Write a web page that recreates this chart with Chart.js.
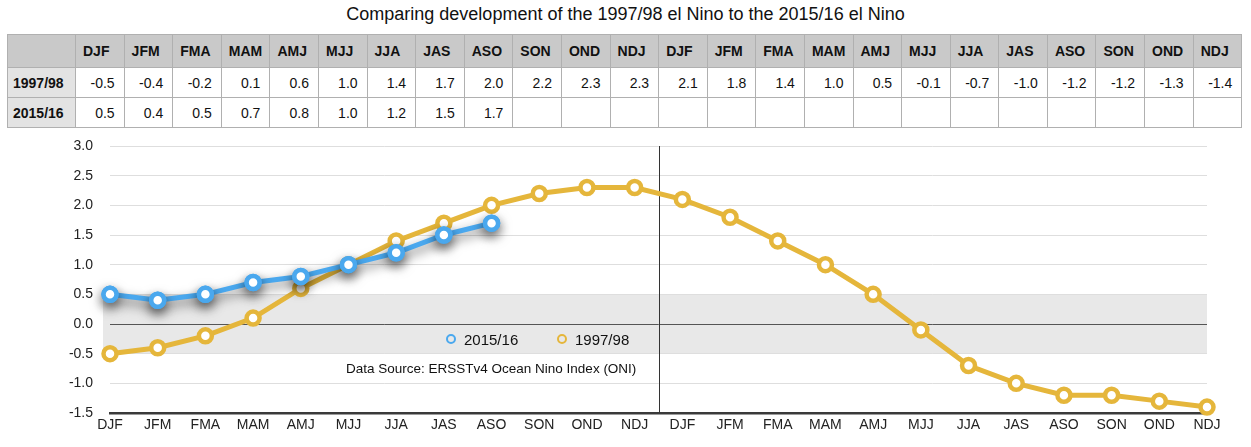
<!DOCTYPE html>
<html>
<head>
<meta charset="utf-8">
<script src="https://cdn.jsdelivr.net/npm/chart.js@4"></script>
<style>
    body { margin: 0; background: #fff; font-family: "Liberation Sans", Arial, sans-serif; color: #111; }
    #title { position: absolute; left: 0; top: 4px; width: 1251px; text-align: center; font-size: 18px; }
    #ninoTable { position: absolute; left: 7px; top: 34px; border-collapse: collapse; table-layout: fixed; font-size: 14px; }
    #ninoTable td { border: 1px solid #b0b0b0; padding: 0; overflow: hidden; white-space: nowrap; }
    #ninoTable tr.head td { background: #c9c9c9; font-weight: bold; height: 32px; padding-left: 7px; }
    #ninoTable tr.data td { height: 29px; text-align: right; padding-right: 9px; }
    #ninoTable tr.data td.lbl { background: #e3e3e3; font-weight: bold; text-align: left; padding-left: 5px; padding-right: 0; }
    #chartBox { position: absolute; left: 0; top: 135px; width: 1251px; height: 312px; }
    .legend { position: absolute; top: 331px; font-size: 15px; }
    .legend span.dot { display: inline-block; width: 6px; height: 6px; border-radius: 50%; border: 2.5px solid; margin-right: 8px; vertical-align: 1px; }
    #source { position: absolute; left: 346px; top: 361px; font-size: 13.5px; }
</style>
</head>
<body>
<div id="title">Comparing development of the 1997/98 el Nino to the 2015/16 el Nino</div>
<table id="ninoTable"></table>
<div id="chartBox"><canvas id="ninoChart"></canvas></div>
<div class="legend" style="left:446px;"><span class="dot" style="border-color:#4aa8ee;"></span>2015/16</div>
<div class="legend" style="left:557px;"><span class="dot" style="border-color:#e5b63b;"></span>1997/98</div>
<div id="source">Data Source: ERSSTv4 Ocean Nino Index (ONI)</div>

<script>
const seasons = ['DJF', 'JFM', 'FMA', 'MAM', 'AMJ', 'MJJ', 'JJA', 'JAS', 'ASO', 'SON', 'OND', 'NDJ',
                 'DJF', 'JFM', 'FMA', 'MAM', 'AMJ', 'MJJ', 'JJA', 'JAS', 'ASO', 'SON', 'OND', 'NDJ'];
const oni1997 = [-0.5, -0.4, -0.2, 0.1, 0.6, 1.0, 1.4, 1.7, 2.0, 2.2, 2.3, 2.3,
                 2.1, 1.8, 1.4, 1.0, 0.5, -0.1, -0.7, -1.0, -1.2, -1.2, -1.3, -1.4];
const oni2015 = [0.5, 0.4, 0.5, 0.7, 0.8, 1.0, 1.2, 1.5, 1.7];
const yTicks = [-1.5, -1.0, -0.5, 0.0, 0.5, 1.0, 1.5, 2.0, 2.5, 3.0];

const BLUE = '#4aa8ee';
const GOLD = '#e5b63b';

// Build the table from the same arrays
function buildTable() {
    const table = document.getElementById('ninoTable');
    const cols = '<colgroup><col style="width:68px">' + seasons.map(() => '<col style="width:48.6px">').join('') + '</colgroup>';
    let html = cols + '<tr class="head"><td></td>' + seasons.map(s => `<td>${s}</td>`).join('') + '</tr>';
    const rows = [['1997/98', oni1997], ['2015/16', oni2015]];
    rows.forEach(([name, vals]) => {
        html += `<tr class="data"><td class="lbl">${name}</td>`;
        seasons.forEach((s, i) => {
            html += `<td>${vals[i] !== undefined ? vals[i].toFixed(1) : ''}</td>`;
        });
        html += '</tr>';
    });
    table.innerHTML = html;
}
buildTable();

// Gray neutral band + vertical divider between the two years
const bandPlugin = {
    id: 'band',
    beforeDraw(chart) {
        const { ctx, chartArea, scales } = chart;
        const y1 = scales.y.getPixelForValue(0.5);
        const y2 = scales.y.getPixelForValue(-0.5);
        ctx.save();
        ctx.fillStyle = '#e8e8e8';
        ctx.fillRect(chartArea.left - 7, y1, chartArea.right - chartArea.left + 7, y2 - y1);
        ctx.restore();
    },
    beforeDatasetsDraw(chart) {
        const { ctx, chartArea, scales } = chart;
        const x = (scales.x.getPixelForValue(11) + scales.x.getPixelForValue(12)) / 2;
        ctx.save();
        ctx.strokeStyle = '#333';
        ctx.lineWidth = 1;
        ctx.beginPath();
        ctx.moveTo(Math.round(x) + 0.5, chartArea.top);
        ctx.lineTo(Math.round(x) + 0.5, chartArea.bottom);
        ctx.stroke();
        ctx.restore();
    }
};

// Drop shadow on the 2015/16 line, points redrawn clean on top
const shadowPlugin = {
    id: 'shadow',
    beforeDatasetDraw(chart, args) {
        if (args.index !== 0) return;
        const ctx = chart.ctx;
        ctx.save();
        ctx.shadowColor = 'rgba(0,0,0,0.55)';
        ctx.shadowBlur = 12;
        ctx.shadowOffsetY = 5;
    },
    afterDatasetDraw(chart, args) {
        if (args.index !== 0) return;
        chart.ctx.restore();
        chart.getDatasetMeta(0).data.forEach(pt => pt.draw(chart.ctx, chart.chartArea));
    }
};

const ctx = document.getElementById('ninoChart').getContext('2d');
new Chart(ctx, {
    type: 'line',
    data: {
        labels: seasons,
        datasets: [{
            label: '2015/16',
            data: oni2015,
            borderColor: BLUE,
            backgroundColor: '#fff',
            pointBackgroundColor: '#fff',
            pointBorderColor: BLUE,
            borderWidth: 5,
            pointRadius: 6.5,
            pointBorderWidth: 4.5,
            clip: false
        }, {
            label: '1997/98',
            data: oni1997,
            borderColor: GOLD,
            backgroundColor: '#fff',
            pointBackgroundColor: '#fff',
            pointBorderColor: GOLD,
            borderWidth: 5,
            pointRadius: 6.5,
            pointBorderWidth: 4.5,
            clip: false
        }]
    },
    options: {
        responsive: true,
        maintainAspectRatio: false,
        animation: false,
        layout: { padding: { top: 0, right: 44, left: 0, bottom: 0 } },
        plugins: {
            legend: { display: false },
            tooltip: { enabled: false }
        },
        scales: {
            x: {
                offset: false,
                grid: { display: false, drawTicks: false },
                border: { display: true, color: '#3a3a3a', width: 2.5 },
                ticks: {
                    color: '#222',
                    font: { family: 'Liberation Sans', size: 14 },
                    padding: 4,
                    maxRotation: 0,
                    autoSkip: false
                },
                afterFit(scale) { scale.height = 34; }
            },
            y: {
                min: -1.5,
                max: 3.0,
                afterBuildTicks(scale) { scale.ticks = yTicks.map(v => ({ value: v })); },
                grid: {
                    drawTicks: false,
                    color: c => c.tick && c.tick.value === 0 ? '#555' : '#dedede',
                    lineWidth: 1
                },
                border: { display: false },
                ticks: {
                    color: '#222',
                    font: { family: 'Liberation Sans', size: 14 },
                    padding: 17,
                    callback: v => Number(v).toFixed(1)
                },
                afterFit(scale) {
                    scale.width = 110;
                    scale.paddingTop = 11;
                    scale.paddingBottom = 0;
                }
            }
        }
    },
    plugins: [bandPlugin, shadowPlugin]
});
</script>
</body>
</html>
